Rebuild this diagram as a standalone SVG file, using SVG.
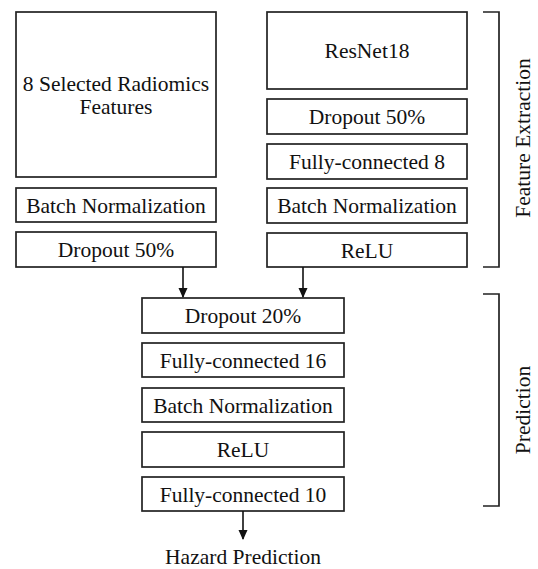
<svg xmlns="http://www.w3.org/2000/svg" width="538" height="569" viewBox="0 0 538 569">
<style>
.b{fill:#fff;stroke:#222;stroke-width:1.7}
.t{font-family:"Liberation Serif","Times New Roman",serif;font-size:21.5px;fill:#111;text-anchor:middle}
.c{stroke:#111;stroke-width:1.6;fill:none}
.br{stroke:#222;stroke-width:1.7;fill:none}
</style>
<defs>
<marker id="ah" markerWidth="10" markerHeight="10" refX="9" refY="5" orient="auto" markerUnits="userSpaceOnUse">
<path d="M0,0.5 L10,5 L0,9.5 Z" fill="#111"/>
</marker>
</defs>
<rect width="538" height="569" fill="#fff"/>
<g id="radiomics"><rect class="b" x="16" y="12" width="200" height="165"/><text class="t" x="116" y="91">8 Selected Radiomics</text><text class="t" x="116" y="114">Features</text></g>
<g id="bn-left"><rect class="b" x="16" y="188" width="200" height="34"/><text class="t" x="116" y="212.5">Batch Normalization</text></g>
<g id="drop-left"><rect class="b" x="16" y="232" width="200" height="35"/><text class="t" x="116" y="257">Dropout 50%</text></g>
<g id="resnet"><rect class="b" x="267" y="12" width="200" height="77"/><text class="t" x="367" y="58">ResNet18</text></g>
<g id="drop-right"><rect class="b" x="267" y="99" width="200" height="35"/><text class="t" x="367" y="124">Dropout 50%</text></g>
<g id="fc8"><rect class="b" x="267" y="144" width="200" height="35"/><text class="t" x="367" y="169">Fully-connected 8</text></g>
<g id="bn-right"><rect class="b" x="267" y="188" width="200" height="35"/><text class="t" x="367" y="213">Batch Normalization</text></g>
<g id="relu-right"><rect class="b" x="267" y="233" width="200" height="34"/><text class="t" x="367" y="257.5">ReLU</text></g>
<g id="drop20"><rect class="b" x="142" y="298" width="202" height="35"/><text class="t" x="243" y="323">Dropout 20%</text></g>
<g id="fc16"><rect class="b" x="142" y="343" width="202" height="34"/><text class="t" x="243" y="367.5">Fully-connected 16</text></g>
<g id="bn-pred"><rect class="b" x="142" y="388" width="202" height="34"/><text class="t" x="243" y="412.5">Batch Normalization</text></g>
<g id="relu-pred"><rect class="b" x="142" y="432" width="202" height="35"/><text class="t" x="243" y="457">ReLU</text></g>
<g id="fc10"><rect class="b" x="142" y="477" width="202" height="34"/><text class="t" x="243" y="501.5">Fully-connected 10</text></g>
<g id="hazard"><text class="t" x="243" y="564">Hazard Prediction</text></g>
<g id="feature-extraction"><path class="br" d="M483,12 H499 V267 H483"/><text class="t" transform="translate(530,138) rotate(-90)">Feature Extraction</text></g>
<g id="prediction"><path class="br" d="M483,294 H499 V506 H483"/><text class="t" transform="translate(530,410) rotate(-90)">Prediction</text></g>
<g id="connectors">
<line class="c" x1="183" y1="267" x2="183" y2="297" marker-end="url(#ah)"/>
<line class="c" x1="303" y1="267" x2="303" y2="297" marker-end="url(#ah)"/>
<line class="c" x1="243" y1="511" x2="243" y2="539" marker-end="url(#ah)"/>
</g>
</svg>
